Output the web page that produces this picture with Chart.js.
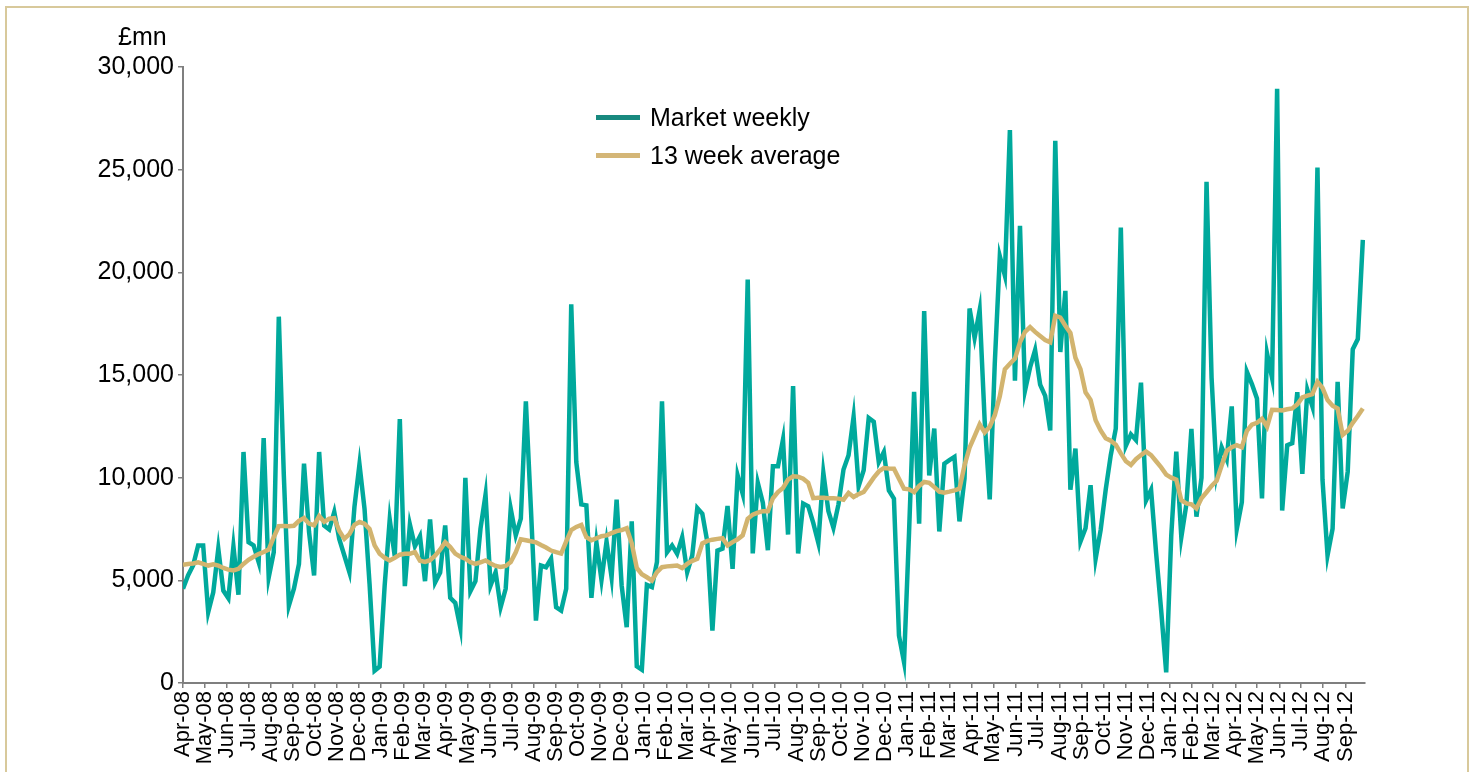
<!DOCTYPE html>
<html>
<head>
<meta charset="utf-8">
<script src="https://cdn.jsdelivr.net/npm/chart.js@4.4.1/dist/chart.umd.min.js"></script>
<style>
    html, body { margin: 0; padding: 0; background: #fff; }
    body { width: 1475px; height: 772px; position: relative; overflow: hidden; font-family: 'Liberation Sans', Arial, sans-serif; }
    .frame { position: absolute; left: 5px; top: 6px; width: 1464px; height: 820px; border: 2px solid #d8c99b; box-sizing: border-box; }
    .wrap { position: absolute; left: 0; top: 0; width: 1475px; height: 772px; }
    .unit { position: absolute; left: 118px; top: 22px; font-size: 25px; color: #000; }
    .legend { position: absolute; left: 596px; top: 98px; font-size: 25px; color: #000; }
    .legend div { height: 38px; display: flex; align-items: center; }
    .legend span.sw { display: inline-block; width: 44px; height: 5px; margin-right: 10px; }
</style>
</head>
<body>
<div class="frame"></div>
<div class="wrap"><canvas id="marketChart"></canvas></div>
<div class="unit">£mn</div>
<div class="legend">
    <div><span class="sw" style="background:#18897f"></span>Market weekly</div>
    <div><span class="sw" style="background:#d4b677"></span>13 week average</div>
</div>
<script>
// first week = 1 Apr 2008, one point per week
const startDate = Date.UTC(2008, 3, 1);

const monthLabels = [
    'Apr-08', 'May-08', 'Jun-08', 'Jul-08', 'Aug-08', 'Sep-08', 'Oct-08', 'Nov-08', 'Dec-08',
    'Jan-09', 'Feb-09', 'Mar-09', 'Apr-09', 'May-09', 'Jun-09', 'Jul-09', 'Aug-09', 'Sep-09', 'Oct-09', 'Nov-09', 'Dec-09',
    'Jan-10', 'Feb-10', 'Mar-10', 'Apr-10', 'May-10', 'Jun-10', 'Jul-10', 'Aug-10', 'Sep-10', 'Oct-10', 'Nov-10', 'Dec-10',
    'Jan-11', 'Feb-11', 'Mar-11', 'Apr-11', 'May-11', 'Jun-11', 'Jul-11', 'Aug-11', 'Sep-11', 'Oct-11', 'Nov-11', 'Dec-11',
    'Jan-12', 'Feb-12', 'Mar-12', 'Apr-12', 'May-12', 'Jun-12', 'Jul-12', 'Aug-12', 'Sep-12'
];

const yTicks = [0, 5000, 10000, 15000, 20000, 25000, 30000];

// Market weekly, £mn
const weekly = [
    4590, 5240, 5720, 6700, 6700, 3450, 4420, 6540, 4500, 4130,
    6650, 4300, 11250, 6860, 6700, 5890, 11930, 5150, 6370, 17840,
    10100, 3770, 4590, 5800, 10680, 7350, 5240, 11250, 7670, 7480,
    8330, 7000, 6210, 5400, 8570, 10650, 8490, 4830, 600, 800,
    4750, 7960, 6180, 12850, 4720, 7720, 6660, 7150, 4960, 7960,
    4900, 5380, 7670, 4150, 3900, 2690, 9990, 4470, 4960, 7510,
    9170, 4750, 5400, 3690, 4590, 8490, 7190, 8000, 13720, 8500,
    3040, 5720, 5640, 6050, 3690, 3530, 4590, 18440, 10760, 8700,
    8650, 4150, 6830, 5020, 6890, 5150, 8930, 4750, 2720, 7870,
    810, 650, 4780, 4670, 5890, 13720, 6370, 6700, 6290, 7100,
    5400, 6210, 8520, 8240, 6860, 2550, 6450, 6540, 8620, 5560,
    10110, 9220, 19650, 6310, 9750, 8780, 6470, 10560, 10560, 11860,
    7230, 14460, 6310, 8740, 8610, 7800, 6830, 10240, 8370, 7560,
    8700, 10400, 11090, 12970, 9590, 10360, 12910, 12720, 10760, 11250,
    9380, 8980, 2310, 1020, 7350, 14180, 7760, 18110, 10110, 12390,
    7380, 10680, 10850, 11010, 7870, 9950, 18240, 16810, 18160, 12760,
    8940, 15560, 20780, 19850, 26930, 14720, 22270, 14250, 15370, 16210,
    14530, 13980, 12300, 26410, 16120, 19100, 9410, 11420, 6890, 7540,
    9630, 6050, 7450, 9410, 11090, 12390, 22180, 11550, 12110, 11830,
    14630, 8890, 9410, 6330, 3540, 520, 7170, 11270, 7100, 8700,
    12380, 8100, 9990, 24410, 14860, 10190, 11480, 10890, 13470, 7500,
    8800, 15160, 14560, 13860, 8990, 16050, 14860, 28940, 8400, 11580,
    11680, 14160, 10190, 14270, 13470, 25100, 9890, 6220, 7510, 14670,
    8500, 10290, 16250, 16750, 21580
];

// 13 week average, £mn
const avg13 = [
    5760, 5800, 5820, 5880, 5800, 5720, 5780, 5720, 5600, 5520,
    5480, 5560, 5800, 6000, 6150, 6280, 6380, 6500, 7100, 7640,
    7650, 7640, 7660, 7900, 8030, 7760, 7680, 8130, 7850, 8000,
    8030, 7400, 7020, 7250, 7700, 7840, 7760, 7500, 6700, 6300,
    6100, 5970, 6100, 6250, 6290, 6300, 6370, 5950, 5900, 5980,
    6200, 6500, 6860, 6620, 6300, 6150, 6050, 5880, 5800, 5880,
    5970, 5820, 5700, 5650, 5700, 5890, 6370, 7000, 6950, 6900,
    6850, 6720, 6600, 6450, 6370, 6300, 6900, 7450, 7600, 7700,
    7100, 6950, 7050, 7150, 7190, 7300, 7400, 7450, 7540, 6800,
    5600, 5300, 5150, 4990, 5400, 5640, 5680, 5700, 5720, 5600,
    5800, 5950, 6050, 6800, 6920, 6980, 7020, 7050, 6700, 6860,
    7000, 7190, 8000, 8200, 8300, 8370, 8370, 9000, 9300, 9500,
    9910, 10070, 10050, 9950, 9750, 9000, 9020, 9020, 9000, 9000,
    8980, 8930, 9260, 9060, 9200, 9300, 9650, 10000, 10300, 10470,
    10450, 10440, 9950, 9460, 9430, 9300, 9600, 9790, 9750, 9540,
    9320, 9270, 9320, 9380, 9460, 10600, 11460, 12020, 12600, 12200,
    12480, 13040, 13970, 15280, 15550, 15800, 16590, 17100, 17330, 17100,
    16900, 16700, 16590, 17890, 17800, 17400, 17050, 15840, 15280, 14160,
    13790, 12800, 12300, 11920, 11800, 11600, 11180, 10800, 10620, 10900,
    11100, 11270, 11100, 10800, 10500, 10150, 10000, 9900, 8900, 8750,
    8700, 8500, 9000, 9290, 9600, 9850, 10590, 11300, 11480, 11580,
    11480, 12280, 12580, 12670, 12870, 12480, 13310, 13300, 13270, 13330,
    13370, 13570, 13910, 14000, 14070, 14670, 14370, 13780, 13500, 13370,
    12080, 12280, 12670, 13000, 13370
];

const monthNames = ['Jan', 'Feb', 'Mar', 'Apr', 'May', 'Jun', 'Jul', 'Aug', 'Sep', 'Oct', 'Nov', 'Dec'];
const DAY = 86400000;

// day offset of each month tick from the start date
const monthDays = monthLabels.map(l => {
    const [m, y] = l.split('-');
    return (Date.UTC(2000 + Number(y), monthNames.indexOf(m), 1) - startDate) / DAY;
});

const toPoints = arr => arr.map((v, i) => ({ x: i * 7, y: v }));

const colors = {
    teal: '#00a99c',
    tan: '#d2b46f',
    axis: '#7f7f7f',
    text: '#000000'
};

const font = "'Liberation Sans', Arial, sans-serif";

new Chart(document.getElementById('marketChart'), {
    type: 'line',
    data: {
        datasets: [{
            label: '13 week average',
            data: toPoints(avg13),
            borderColor: colors.tan,
            borderWidth: 4.5,
            pointRadius: 0,
            tension: 0,
            order: 0
        }, {
            label: 'Market weekly',
            data: toPoints(weekly),
            borderColor: colors.teal,
            borderWidth: 4.5,
            pointRadius: 0,
            tension: 0,
            order: 1
        }]
    },
    options: {
        responsive: true,
        maintainAspectRatio: false,
        animation: false,
        devicePixelRatio: 1,
        layout: { padding: { left: 0, right: 110, top: 67, bottom: 0 } },
        plugins: {
            legend: { display: false },
            tooltip: { enabled: false }
        },
        scales: {
            x: {
                type: 'linear',
                min: 0,
                max: 1641,
                afterBuildTicks: (scale) => {
                    scale.ticks = monthDays.map(v => ({ value: v }));
                },
                afterFit: (scale) => { scale.height = 89; },
                ticks: {
                    autoSkip: false,
                    minRotation: 90,
                    maxRotation: 90,
                    padding: 3,
                    color: colors.text,
                    font: { family: font, size: 22 },
                    callback: (value, index) => monthLabels[index]
                },
                grid: {
                    display: true,
                    drawOnChartArea: false,
                    drawTicks: true,
                    tickLength: 5,
                    color: colors.axis,
                    lineWidth: 1.5
                },
                border: { display: true, color: colors.axis, width: 2 }
            },
            y: {
                min: 0,
                max: 30000,
                afterBuildTicks: (scale) => {
                    scale.ticks = yTicks.map(v => ({ value: v }));
                },
                afterFit: (scale) => { scale.width = 183; },
                ticks: {
                    padding: 4,
                    color: colors.text,
                    font: { family: font, size: 25 },
                    callback: (value) => value.toLocaleString('en-US')
                },
                grid: {
                    display: true,
                    drawOnChartArea: false,
                    drawTicks: true,
                    tickLength: 5,
                    color: colors.axis,
                    lineWidth: 1.5
                },
                border: { display: true, color: colors.axis, width: 2 }
            }
        }
    }
});
</script>
</body>
</html>
